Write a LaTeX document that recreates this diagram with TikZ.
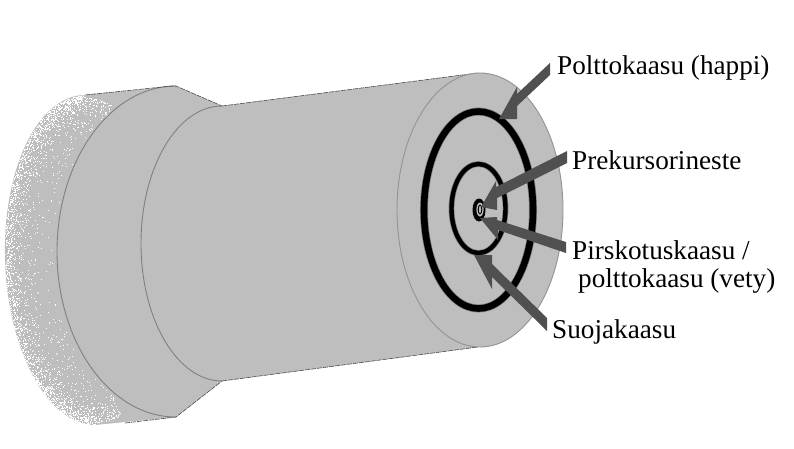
\documentclass[tikz,border=0pt]{standalone}
\usepackage{fontspec}
\setmainfont{Liberation Serif}
\definecolor{bodygrey}{HTML}{BEBEBE}
\definecolor{edgegrey}{HTML}{808080}
\definecolor{arrowgrey}{HTML}{505050}
\tikzset{
  edgeline/.style={draw=edgegrey,line width=0.9pt},
  silhouette/.style={draw=black!70,line width=0.6pt,dash pattern=on 5pt off 1pt},
  pointer/.style={fill=arrowgrey,draw=none},
  lab/.style={font=\fontsize{27.2}{30}\selectfont,anchor=west,inner sep=0pt,align=left}
}
\begin{document}
\begin{tikzpicture}[x=1pt,y=-1pt]
\useasboundingbox (0,0) rectangle (794,448);
\fill[white] (0,0) rectangle (794,448);
% back, fading part
\fill[bodygrey] plot[domain=90:270,samples=60] ({90+85*cos(\x)+4.95*sin(\x)},{260+165*sin(\x)}) -- (176,86) -- (176,417) -- cycle;
\pgfmathsetseed{4217}
\foreach \i in {1,...,2300}{
  \pgfmathsetmacro\ang{90+180*rnd}
  \pgfmathsetmacro\dep{-8.5*ln(rnd+0.001)}
  \pgfmathsetmacro\px{round(90+(85-\dep)*cos(\ang)+4.95*sin(\ang))}
  \pgfmathsetmacro\py{round(260+(165-\dep)*sin(\ang))}
  \fill[white] (\px,\py) rectangle +(1,1);
}
\foreach \i in {1,...,170}{
  \pgfmathsetmacro\ang{90+180*rnd}
  \pgfmathsetmacro\dep{12+36*rnd}
  \pgfmathsetmacro\px{round(90+(85-\dep)*cos(\ang)+4.95*sin(\ang))}
  \pgfmathsetmacro\py{round(260+(165-\dep)*sin(\ang))}
  \fill[white] (\px,\py) rectangle +(1,1);
}
% soft ends of the stipple past the top and bottom of the fade
\foreach \i in {1,...,110}{
  \pgfmathsetmacro\ang{270+18*rnd}
  \pgfmathsetmacro\dep{2-8*ln(rnd+0.001)}
  \pgfmathsetmacro\px{round(90+(85-\dep)*cos(\ang)+4.95*sin(\ang))}
  \pgfmathsetmacro\py{round(260+(165-\dep)*sin(\ang))}
  \fill[white] (\px,\py) rectangle +(1,1);
}
\foreach \i in {1,...,110}{
  \pgfmathsetmacro\ang{72+18*rnd}
  \pgfmathsetmacro\dep{2-8*ln(rnd+0.001)}
  \pgfmathsetmacro\px{round(90+(85-\dep)*cos(\ang)+4.95*sin(\ang))}
  \pgfmathsetmacro\py{round(260+(165-\dep)*sin(\ang))}
  \fill[white] (\px,\py) rectangle +(1,1);
}
% flange
\fill[bodygrey] (176,86) -- (222,106) -- (222,381) -- (176,417) -- cycle;
\fill[bodygrey] (176,86) arc[start angle=90,delta angle=180,x radius=119pt,y radius=165.5pt] -- cycle;
\draw[edgeline] (176,86) arc[start angle=90,delta angle=180,x radius=119pt,y radius=165.5pt];
\draw[silhouette] (85,95) -- (172,86) -- (176,86) -- (222,106);
\draw[silhouette] (125,423) -- (176,417) -- (222,381);
% main cylinder
\fill[bodygrey] (222,106) -- (478,73) -- (478,347) -- (222,381) -- cycle;
\draw[edgeline] (222,106) arc[start angle=90,delta angle=180,x radius=81pt,y radius=137.5pt];
\draw[silhouette] (222,106) -- (478,73);
\draw[silhouette] (222,381) -- (478,347);
% front face
\fill[bodygrey] (480,210) ellipse[x radius=83pt,y radius=137pt];
\draw[edgeline,draw=edgegrey!70!bodygrey] (480,210) ellipse[x radius=83pt,y radius=137pt];
% rings
\draw[edgegrey,line width=8pt] (478.5,210) ellipse[x radius=54.5pt,y radius=98.5pt];
\draw[black,line width=6.6pt] (478.5,210) ellipse[x radius=54.5pt,y radius=98.5pt];
\draw[edgegrey,line width=5.8pt] (478.5,208.5) ellipse[x radius=27pt,y radius=44.5pt];
\draw[black,line width=4.4pt] (478.5,208.5) ellipse[x radius=27pt,y radius=44.5pt];
\fill[black] (479,210) ellipse[x radius=6.5pt,y radius=11.5pt];
\fill[bodygrey] (480,209.5) ellipse[x radius=3.6pt,y radius=7pt];
\draw[black,line width=1pt] (480,209.5) ellipse[x radius=1.8pt,y radius=4.5pt];
% pointers
\fill[pointer] (550,63) -- (550,75) -- (517,106) -- (517,119) -- (499,119) -- (517,87) -- (517,94) -- cycle;
\fill[pointer] (567,151) -- (567,163) -- (497,198) -- (497,210) -- (481,207) -- (496,181) -- (496,187) -- cycle;
\fill[pointer] (566,242) -- (566,253) -- (498,230) -- (498,240) -- (480,218) -- (497,217) -- (497,220) -- cycle;
\fill[pointer] (547,318) -- (547,331) -- (492,277) -- (492,289) -- (474,255) -- (492,255) -- (492,264) -- cycle;
% labels
\node[lab] (poltto) at (557,68) {Polttokaasu (happi)};
\node[lab] (preku) at (572,160) {Prekursorineste};
\node[lab] (pirsko) at (572,250) {Pirskotuskaasu /};
\node[lab] (polttov) at (578,281) {polttokaasu (vety)};
\node[lab] (suoja) at (552,332) {Suojakaasu};
\end{tikzpicture}
\end{document}
